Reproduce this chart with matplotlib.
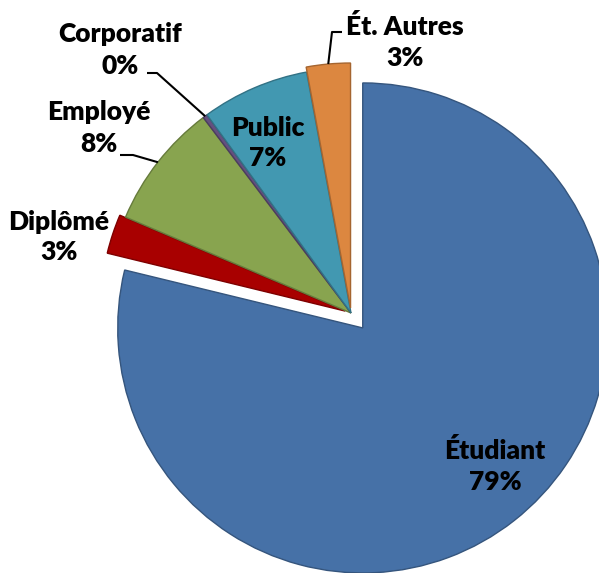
import numpy as np
import matplotlib.pyplot as plt
from matplotlib.colors import to_rgb

# données (parts en %)
categories = ['Étudiant', 'Diplômé', 'Employé', 'Corporatif', 'Public', 'Ét. Autres']
parts = [78.8, 2.6, 8.3, 0.3, 7.1, 2.9]
couleurs = ['#4671a7', '#a80000', '#88a44f', '#64507f', '#4298b1', '#dc8740']
explode = [19, 6, 0, 0, 0, 5]   # en pixels (unités des données)

W, H = 599, 573
fig = plt.figure(figsize=(W / 100, H / 100), dpi=100)
ax = fig.add_axes([0, 0, 1, 1])

def px(x, y):
    return x, H - y

def darker(c, f=0.75):
    r, g, b = to_rgb(c)
    return (r * f, g * f, b * f)

wedges, _ = ax.pie(parts, colors=couleurs, explode=explode, startangle=90,
                   counterclock=False, radius=245, center=px(351, 313),
                   wedgeprops=dict(linewidth=1.0))
for w, c in zip(wedges, couleurs):
    w.set_edgecolor(darker(c))

ax.set_xlim(0, W)
ax.set_ylim(0, H)
ax.set_aspect('equal')
ax.axis('off')

font = dict(family=['Lato', 'DejaVu Sans'], fontsize=19, fontweight='heavy',
            ha='center', va='center', linespacing=1.35, color='black')

labels = ['{}\n{:.0f}%'.format(n, v) for n, v in zip(categories, parts)]
pos_labels = [(495, 466), (59, 237), (99, 128), (120, 50), (268, 143), (405, 42)]
for lab, p in zip(labels, pos_labels):
    ax.text(*px(*p), lab, **font)

def edge_point(w):
    a = np.deg2rad((w.theta1 + w.theta2) / 2)
    cx, cy = w.center
    return cx + w.r * np.cos(a), cy + w.r * np.sin(a)

# traits de rappel (Employé, Corporatif, Ét. Autres)
rappels = {2: [(120, 155), (133, 155)], 3: [(147, 73), (157, 73)], 5: [(342, 32), (332, 32)]}
for i, pts in rappels.items():
    xs = [px(*p)[0] for p in pts]
    ys = [px(*p)[1] for p in pts]
    ex, ey = edge_point(wedges[i])
    ax.plot(xs + [ex], ys + [ey], color='black', lw=1.5, solid_capstyle='butt')

fig.savefig('out.png', dpi=100)
